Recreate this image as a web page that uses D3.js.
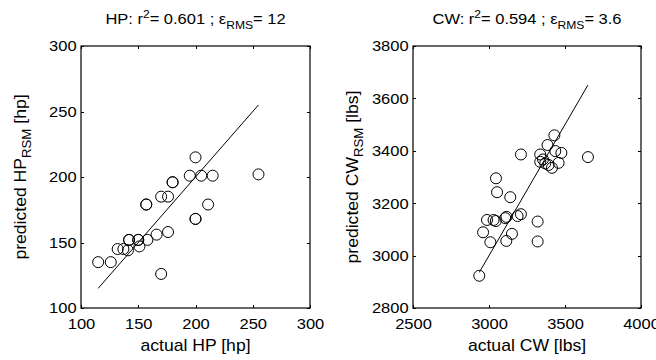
<!DOCTYPE html>
<html lang="en">
<head>
<meta charset="UTF-8">
<title>RSM prediction vs actual</title>
<script src="https://cdn.jsdelivr.net/npm/d3@7"></script>
<style>
    body { margin: 0; background: #fff; }
    text { font-family: "Liberation Sans", Arial, sans-serif; fill: #000; }
    .axis text { font-size: 15px; }
    .axis line { stroke: #000; shape-rendering: crispEdges; }
    .axis path { display: none; }
</style>
</head>
<body>
<div id="output"></div>
<script>

// HP panel data
var hpActual = [115, 126, 132, 137, 141, 142, 142, 150, 150, 151, 158, 166, 176, 170,
                157, 157, 170, 176, 180, 180, 195, 200, 205, 215, 211, 200, 200, 255];
var hpPred   = [135, 135, 145, 145, 144, 152, 152, 152, 152, 147, 152, 156, 158, 126,
                179, 179, 185, 185, 196, 196, 201, 215, 201, 201, 179, 168, 168, 202];
var hpTicks = [100, 150, 200, 250, 300];

// CW panel data
var cwActual = [2936, 2961, 3009, 2987, 3030, 3045, 3107, 3115, 3114, 3151, 3188, 3210,
                3320, 3320, 3140, 3053, 3046, 3210, 3337, 3337, 3355, 3370, 3385, 3392,
                3414, 3430, 3436, 3458, 3476, 3651];
var cwPred   = [2923, 3089, 3051, 3136, 3136, 3132, 3143, 3148, 3056, 3083, 3151, 3158,
                3130, 3054, 3223, 3242, 3295, 3386, 3386, 3358, 3367, 3352, 3422, 3346,
                3335, 3459, 3399, 3354, 3392, 3376];
var cwXTicks = [2500, 3000, 3500, 4000];
var cwYTicks = [2800, 3000, 3200, 3400, 3600, 3800];

var w = 656;
var h = 360;
var stretch = "scale(1.1,1)";   // reference font renders a bit wider than Liberation Sans

var svg = d3.select("#output")
            .append("svg")
            .attr("width", w)
            .attr("height", h);

function drawPanel(cfg) {
    var x = d3.scaleLinear().domain(cfg.xDomain).range(cfg.xRange);
    var y = d3.scaleLinear().domain(cfg.yDomain).range(cfg.yRange);
    var g = svg.append("g");
    var fmt = d3.format("d");

    // ticks on all four sides, pointing inward
    g.append("g").attr("class", "axis")
        .attr("transform", "translate(0," + cfg.yRange[0] + ")")
        .call(d3.axisBottom(x).tickValues(cfg.xTicks).tickFormat(fmt)
              .tickSizeInner(-3).tickSizeOuter(0).tickPadding(10))
        .selectAll("text").attr("transform", stretch);
    g.append("g").attr("class", "axis")
        .attr("transform", "translate(0," + cfg.yRange[1] + ")")
        .call(d3.axisTop(x).tickValues(cfg.xTicks).tickSizeInner(-3).tickSizeOuter(0).tickFormat(""));
    g.append("g").attr("class", "axis")
        .attr("transform", "translate(" + cfg.xRange[0] + ",0)")
        .call(d3.axisLeft(y).tickValues(cfg.yTicks).tickFormat(fmt)
              .tickSizeInner(-3).tickSizeOuter(0).tickPadding(4))
        .selectAll("text").attr("transform", stretch);
    g.append("g").attr("class", "axis")
        .attr("transform", "translate(" + cfg.xRange[1] + ",0)")
        .call(d3.axisRight(y).tickValues(cfg.yTicks).tickSizeInner(-3).tickSizeOuter(0).tickFormat(""));

    g.append("rect")
        .attr("x", cfg.xRange[0])
        .attr("y", cfg.yRange[1])
        .attr("width", cfg.xRange[1] - cfg.xRange[0])
        .attr("height", cfg.yRange[0] - cfg.yRange[1])
        .attr("fill", "none")
        .attr("stroke", "#000")
        .attr("stroke-width", 1.2);

    // y = x reference line over the span of actual values
    var ext = d3.extent(cfg.actual);
    g.append("line")
        .attr("x1", x(ext[0])).attr("y1", y(ext[0]))
        .attr("x2", x(ext[1])).attr("y2", y(ext[1]))
        .attr("stroke", "#000")
        .attr("stroke-width", 1);

    g.selectAll("circle")
        .data(cfg.actual)
        .enter()
        .append("circle")
            .attr("cx", function(d) { return x(d); })
            .attr("cy", function(d, i) { return y(cfg.pred[i]); })
            .attr("r", 5.5)
            .attr("fill", "none")
            .attr("stroke", "#000")
            .attr("stroke-width", 1);

    var cx = (cfg.xRange[0] + cfg.xRange[1]) / 2;
    var cy = (cfg.yRange[0] + cfg.yRange[1]) / 2;

    // title
    var t = g.append("text")
        .attr("transform", "translate(" + cx + ",24) " + stretch)
        .attr("text-anchor", "middle")
        .style("font-size", "15px");
    t.append("tspan").text(cfg.name + ": r");
    t.append("tspan").attr("dy", -6).style("font-size", "11px").text("2");
    t.append("tspan").attr("dy", 6).text("= " + cfg.r2 + " ; \u03b5");
    t.append("tspan").attr("dy", 5).style("font-size", "11px").text("RMS");
    t.append("tspan").attr("dy", -5).text("= " + cfg.rms);

    // x label
    g.append("text")
        .attr("transform", "translate(" + cx + ",351) " + stretch)
        .attr("text-anchor", "middle")
        .style("font-size", "16px")
        .text("actual " + cfg.name + " [" + cfg.unit + "]");

    // y label
    var yl = g.append("text")
        .attr("transform", "translate(" + (cfg.xRange[0] - 55) + "," + cy + ") rotate(-90) " + stretch)
        .attr("text-anchor", "middle")
        .style("font-size", "16px");
    yl.append("tspan").text("predicted " + cfg.name);
    yl.append("tspan").attr("dy", 5).style("font-size", "12px").text("RSM");
    yl.append("tspan").attr("dy", -5).text(" [" + cfg.unit + "]");
}

drawPanel({
    name: "HP", unit: "hp", r2: "0.601", rms: "12",
    actual: hpActual, pred: hpPred,
    xDomain: [100, 300], yDomain: [100, 300],
    xTicks: hpTicks, yTicks: hpTicks,
    xRange: [81, 310], yRange: [308, 46]
});

drawPanel({
    name: "CW", unit: "lbs", r2: "0.594", rms: "3.6",
    actual: cwActual, pred: cwPred,
    xDomain: [2500, 4000], yDomain: [2800, 3800],
    xTicks: cwXTicks, yTicks: cwYTicks,
    xRange: [413, 641], yRange: [308, 46]
});

</script>
</body>
</html>
